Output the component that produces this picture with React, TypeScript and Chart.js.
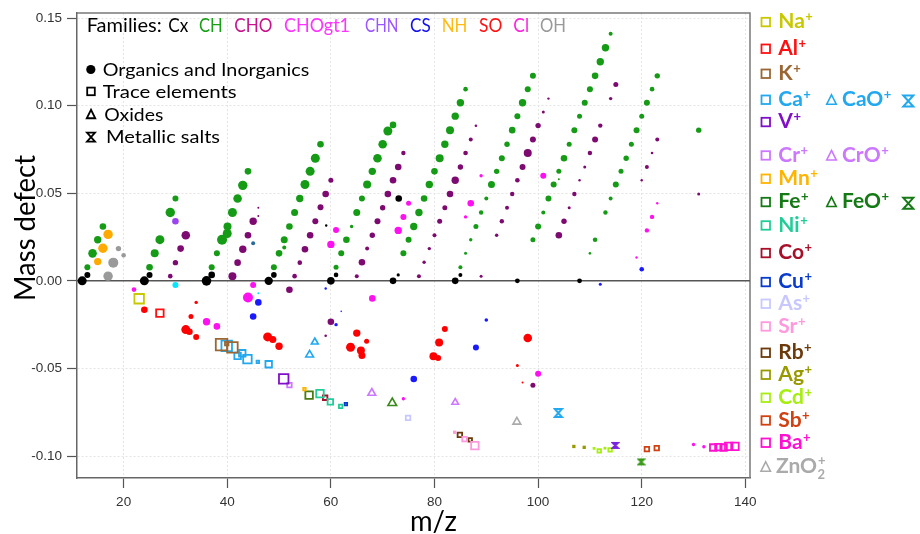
import React, { useEffect, useRef } from 'react';
import { Chart, registerables } from 'chart.js';
Chart.register(...registerables);

type P = [number, number, number]; // [m/z, mass defect, marker size]

// ---------- Organics and inorganics (circles) ----------
const CX: P[] = [
  [12, 0, 4.5], [13, 0.0034, 3], [24, 0, 4.5], [25, 0.0034, 3], [36, 0, 4.8], [37, 0.0034, 3.3],
  [48, 0, 4.2], [49, 0.0034, 2.8], [60, 0, 3.8], [61, 0.0034, 2.3], [72, 0, 3.3], [73, 0.0034, 1.6],
  [84, 0, 3.3], [85, 0.0034, 2], [96, 0, 2.4], [108, 0, 2.4], [73.1, 0.047, 3.3], [59.1, 0.0316, 1.2],
];
const CH: P[] = [
  [13, 0.0078, 3], [14, 0.0157, 4.3], [15, 0.0235, 3.7], [16, 0.031, 3.3],
  [25, 0.0078, 3.3], [26, 0.0157, 4], [27, 0.0235, 4.5], [29, 0.039, 4.7], [30, 0.047, 3],
  [37, 0.0078, 3], [38, 0.0157, 3], [39, 0.0235, 5], [40, 0.027, 4.5], [40.05, 0.031, 4], [41, 0.039, 4.5],
  [42, 0.047, 4.3], [43, 0.0545, 4.7], [44, 0.0625, 3.3],
  [49, 0.0078, 3], [50, 0.0157, 3.3], [51, 0.0235, 3.5], [51, 0.019, 2], [52, 0.031, 3.3], [53, 0.039, 3.5],
  [54, 0.047, 3.7], [55, 0.055, 4.5], [56, 0.0625, 4.5], [57, 0.07, 4.5], [58, 0.078, 3.3],
  [61, 0.0078, 2.5], [62, 0.0157, 3], [63, 0.0235, 3.3], [64, 0.031, 1.7], [65, 0.039, 3.5], [66, 0.047, 3],
  [67, 0.055, 4], [68, 0.0625, 3.7], [69, 0.07, 4.3], [70, 0.078, 4.3], [71, 0.0855, 4.5], [72, 0.089, 3.3],
  [74, 0.0157, 3], [75, 0.0235, 3], [76, 0.031, 3.7], [77, 0.039, 3.7], [78, 0.047, 3.3], [79, 0.055, 3.7],
  [80, 0.0625, 3.3], [81, 0.07, 4], [82, 0.078, 3.7], [83, 0.086, 4], [84, 0.094, 3.7], [85, 0.1016, 3.7], [86, 0.1094, 2.3],
  [85, 0.0078, 2], [86, 0.0157, 1.5], [87, 0.0235, 1.7], [88, 0.031, 2.5], [89, 0.039, 2.2], [90, 0.047, 2],
  [91, 0.055, 3.5], [92, 0.0625, 2.7], [93, 0.07, 3], [94, 0.078, 2.7], [95, 0.086, 3.3], [96, 0.094, 3],
  [97, 0.1016, 3.7], [98, 0.1094, 3], [99, 0.117, 3],
  [99, 0.0235, 2.5], [100, 0.031, 3], [101, 0.039, 2], [102, 0.047, 3], [103, 0.055, 3], [104, 0.0625, 2.5],
  [105, 0.07, 3.3], [106, 0.078, 2.5], [107, 0.086, 3], [108, 0.094, 2.5], [109, 0.1016, 3], [110, 0.1094, 3],
  [111, 0.117, 3.3], [112, 0.125, 3.7], [113, 0.133, 3.7], [114, 0.141, 2], [104, 0.058, 1],
  [110, 0.0157, 1.3], [111, 0.0235, 2.3], [113, 0.039, 2.2], [114, 0.047, 2], [115, 0.055, 3], [116, 0.0625, 2.5],
  [117, 0.07, 2.7], [118, 0.078, 2.5], [119, 0.086, 3], [120, 0.094, 2.5], [121, 0.1016, 3], [122, 0.1094, 2.3],
  [123, 0.117, 2.7], [131, 0.086, 2.7],
];
const CHO: P[] = [
  [29, 0.0027, 2.3], [30, 0.0104, 2.7], [31, 0.0184, 3.3], [32, 0.026, 4.3],
  [41, 0.0027, 4], [42, 0.0104, 3.3], [43, 0.018, 3.7], [44, 0.026, 3.3], [45, 0.034, 3.7], [46, 0.037, 1], [46, 0.0417, 1],
  [52, -0.0051, 3.3], [53, 0.0027, 2.3], [54, 0.0104, 2.3], [55, 0.018, 3.3], [56, 0.026, 3.3], [57, 0.034, 3],
  [58, 0.042, 3], [59, 0.0496, 3.3], [60, 0.0574, 2.5], [60, -0.0233, 3.3], [59, -0.0313, 1.3],
  [65, 0.0027, 2], [66, 0.0106, 3.3], [67, 0.0184, 2], [68, 0.026, 2.7], [69, 0.034, 3], [70, 0.0417, 2.7],
  [71, 0.0496, 3.3], [72, 0.0574, 3.3], [73, 0.065, 3.3], [74, 0.073, 2.2],
  [77, 0.0027, 2], [78, 0.0106, 1.7], [79, 0.0184, 1.7], [80, 0.026, 2], [81, 0.034, 2.5], [82, 0.0417, 2.5],
  [83, 0.0496, 3.3], [84, 0.0574, 3.7], [85, 0.065, 2.7], [86, 0.073, 2.3], [87, 0.0807, 2], [88, 0.0885, 1.3],
  [89, 0.0027, 1.5], [92, 0.026, 1.7], [93, 0.034, 2.2], [94, 0.0417, 2], [95, 0.0496, 2.2], [96, 0.0574, 2.3],
  [97, 0.065, 3], [98, 0.073, 4], [99, 0.0807, 3], [100, 0.0886, 2.7], [101, 0.0964, 1.5], [102, 0.104, 1.2],
  [99, -0.0595, 2.5],
  [104, 0.026, 3.3], [105, 0.034, 2.7], [106, 0.0417, 1.5], [107, 0.0496, 2.2], [108, 0.0574, 1.2], [109, 0.065, 1.5],
  [110, 0.073, 2.2], [111, 0.0807, 3], [112, 0.0886, 2.2], [114, 0.104, 1.7], [115, 0.112, 2.5],
  [120, 0.0574, 1.2], [121, 0.065, 2], [122, 0.073, 1.3], [123, 0.0807, 2], [131, 0.0496, 1.5],
];
const CHN: P[] = [[30, 0.034, 3.3]];
const CHOGT1_CL: P[] = [
  [22, -0.005, 2.3], [45, -0.0023, 3], [44, -0.0095, 5], [61, 0.029, 3], [60, 0.0208, 3.7], [36, -0.0233, 3.7],
  [38, -0.026, 3.3], [68, -0.01, 3.3], [75, 0.0443, 2.5], [74, 0.0365, 3], [73, 0.0288, 3.7], [87, 0.0443, 3.3],
  [86, 0.0365, 1.7], [89, 0.06, 1.7], [101, 0.06, 3], [123, 0.0443, 1.2], [122, 0.0365, 2.2], [121, 0.0288, 2.2],
  [119, 0.0133, 1.2], [100, -0.053, 3], [130, -0.0934, 1.7], [132, -0.0947, 1.7], [74, -0.0673, 1.7],
];
const SO: P[] = [
  [24, -0.0165, 3.3], [34, -0.0123, 1.7], [33, -0.0203, 2.5], [32, -0.0278, 4.5], [32.7, -0.029, 3.3], [34, -0.032, 3],
  [47.8, -0.032, 4.5], [48.8, -0.0335, 3.5], [50, -0.0373, 3.7], [65, -0.0298, 3.7], [66.9, -0.0345, 2.5],
  [63.8, -0.0379, 4.5], [65.8, -0.0398, 4], [66, -0.0426, 3.5], [82, -0.0275, 3], [80.9, -0.0352, 4],
  [79.8, -0.043, 4], [80.7, -0.044, 3], [98, -0.0326, 4.3], [96, -0.0483, 1.5], [97, -0.058, 1],
];
const CS: P[] = [
  [46, -0.0123, 3.3], [45, -0.0203, 3.3], [59, -0.0044, 1.2], [61, -0.025, 1.7], [62, -0.0174, 0.8],
  [90, -0.0223, 1.8], [88, -0.038, 3], [76, -0.056, 3.3], [112, -0.0019, 1.5], [120, 0.0066, 2.3],
];
const CYAN_PTS: P[] = [[30, -0.0023, 3], [46, -0.007, 1]];
const TEAL_PTS: P[] = [[45, 0.0214, 2]];
const NH: P[] = [[15, 0.011, 3.7], [16, 0.0186, 4.7], [17, 0.0265, 4.7]];
const OH: P[] = [[17, 0.0027, 4.7], [18, 0.0104, 5], [19, 0.0184, 2.7], [20, 0.0146, 2.3]];

// ---------- Trace elements (squares) ----------
const NA: P[] = [[23, -0.0102, 11]];
const AL: P[] = [[27, -0.0184, 9]];
const K: P[] = [[38.9, -0.0364, 13], [41, -0.038, 12], [39.9, -0.0358, 5]];
const CA: P[] = [[39.9, -0.0371, 12], [42, -0.0428, 8], [42.9, -0.0413, 8], [43.9, -0.0447, 10], [45.9, -0.0462, 4], [48, -0.0476, 8]];
const V: P[] = [[50.9, -0.0559, 11]];
const CR: P[] = [[52, -0.0595, 6]];
const MN: P[] = [[54.9, -0.0618, 4]];
const FE: P[] = [[55.8, -0.0652, 9]];
const NI: P[] = [[57.9, -0.0644, 9], [59.9, -0.0691, 7], [61.9, -0.0716, 5]];
const CO: P[] = [[58.9, -0.0667, 6]];
const CU: P[] = [[62.9, -0.0703, 4]];
const AS: P[] = [[74.9, -0.0782, 6]];
const SR: P[] = [[83.9, -0.0864, 3], [85.8, -0.0903, 6], [87.8, -0.094, 9]];
const RB: P[] = [[84.9, -0.0879, 6], [86.9, -0.0907, 5]];
const AG: P[] = [[106.9, -0.0945, 3], [108.9, -0.095, 3]];
const CD: P[] = [[110.8, -0.0956, 2.5], [111.8, -0.097, 5], [112.9, -0.0955, 2.5], [113.9, -0.0964, 5]];
const SB: P[] = [[121, -0.096, 6], [122.9, -0.0955, 6]];
const BA: P[] = [[133.8, -0.0951, 8], [134.8, -0.0949, 8], [135.8, -0.0951, 8], [136.8, -0.0945, 9], [138, -0.0945, 9]];

// ---------- Oxides (triangles) ----------
const CAO: P[] = [[56.9, -0.0349, 4], [55.9, -0.0422, 4.5]];
const CRO: P[] = [[67.9, -0.064, 4.5], [84, -0.0693, 3.8]];
const FEO: P[] = [[71.85, -0.0697, 5]];
const ZNO2: P[] = [[95.9, -0.0805, 4.5]];

// ---------- Metallic salts (hourglass) ----------
const SALT_CA: P[] = [[103.9, -0.0754, 4]];
const SALT_PURPLE: P[] = [[114.9, -0.0939, 4]];
const SALT_GREEN: P[] = [[119.9, -0.1033, 4]];

// ---------- Axes ----------
const X_MIN = 11, X_MAX = 140.9, X_STEP = 20;
const Y_MIN = -0.1125, Y_MAX = 0.1528, Y_STEP = 0.05;

const FAMILY_WORDS = ['Families:', 'Cx', 'CH', 'CHO', 'CHOgt1', 'CHN', 'CS', 'NH', 'SO', 'Cl', 'OH'];
const SHAPE_LABELS = ['Organics and Inorganics', 'Trace elements', 'Oxides', 'Metallic salts'];
const ELEMENT_LABELS = ['Na', 'Al', 'K', 'Ca', 'V', 'Cr', 'Mn', 'Fe', 'Ni', 'Co', 'Cu', 'As', 'Sr', 'Rb', 'Ag', 'Cd', 'Sb', 'Ba'];

const COL = {
  cx: '#000000', ch: '#159b15', cho: '#7d0a70', chn: '#9944ee', mag: '#ff10f0', so: '#ff0000', cs: '#1a1aff',
  cyan: '#00e6ff', teal: '#2a6a99', nh: '#ffaa00', oh: '#9a9a9a',
};
const EL_COLORS: Record<string, string> = {
  Na: '#c8c800', Al: '#ff1010', K: '#9a6633', Ca: '#22a8ee', V: '#8010c8', Cr: '#cc77ff', Mn: '#ffb400',
  Fe: '#157a15', Ni: '#22cc99', Co: '#a8102a', Cu: '#0a3ccc', As: '#c8c8ff', Sr: '#ff99dd', Rb: '#6b3a0a',
  Ag: '#999900', Cd: '#a6ee10', Sb: '#d04010', Ba: '#ff10d0',
};

function drawHourglass(g: CanvasRenderingContext2D, cx: number, cy: number, w: number, h: number, color: string, lw: number) {
  g.save();
  g.strokeStyle = color;
  g.lineWidth = lw;
  g.lineJoin = 'miter';
  g.beginPath();
  g.moveTo(cx - w / 2, cy - h / 2);
  g.lineTo(cx + w / 2, cy - h / 2);
  g.lineTo(cx - w / 2, cy + h / 2);
  g.lineTo(cx + w / 2, cy + h / 2);
  g.closePath();
  g.stroke();
  g.restore();
}
function makeHourglass(color: string, w: number, h: number, lw: number) {
  const c = document.createElement('canvas');
  c.width = Math.ceil(w + lw * 2);
  c.height = Math.ceil(h + lw * 2);
  drawHourglass(c.getContext('2d') as CanvasRenderingContext2D, c.width / 2, c.height / 2, w, h, color, lw);
  return c;
}
function drawTri(g: CanvasRenderingContext2D, cx: number, cy: number, w: number, h: number, color: string, lw: number) {
  g.save();
  g.strokeStyle = color;
  g.lineWidth = lw;
  g.beginPath();
  g.moveTo(cx, cy - h / 2);
  g.lineTo(cx + w / 2, cy + h / 2);
  g.lineTo(cx - w / 2, cy + h / 2);
  g.closePath();
  g.stroke();
  g.restore();
}
function fitText(g: CanvasRenderingContext2D, text: string, x: number, y: number, w: number | null, font: string, color: string) {
  g.save();
  g.font = font;
  g.fillStyle = color;
  g.textAlign = 'left';
  g.textBaseline = 'alphabetic';
  const m = g.measureText(text).width;
  const s = w ? w / m : 1;
  g.translate(x, y);
  g.scale(s, 1);
  g.fillText(text, 0, 0);
  g.restore();
  return x + (w ? w : m);
}

const decorPlugin = {
  id: 'decor',
  beforeDatasetsDraw(chart: any) {
    const { ctx, chartArea: a, scales } = chart;
    ctx.save();
    ctx.strokeStyle = '#7a7a7a';
    ctx.lineWidth = 1.5;
    ctx.beginPath();
    ctx.moveTo(a.left, a.top);
    ctx.lineTo(a.right, a.top);
    ctx.lineTo(a.right, a.bottom);
    ctx.stroke();
    const y0 = scales.y.getPixelForValue(0);
    ctx.strokeStyle = '#555555';
    ctx.lineWidth = 1.5;
    ctx.beginPath();
    ctx.moveTo(a.left, y0);
    ctx.lineTo(a.right, y0);
    ctx.stroke();
    ctx.restore();
  },
  afterDraw(chart: any) {
    const g: CanvasRenderingContext2D = chart.ctx;
    // axis titles
    g.save();
    g.translate(35, 228);
    g.rotate(-Math.PI / 2);
    fitText(g, 'Mass defect', -73, 0, 146, '29px Lato', '#000');
    g.restore();
    fitText(g, 'm/z', 410, 531, 47, '29px Lato', '#000');

    // families legend
    const famX = [86.7, 168.3, 199, 234.3, 284, 365, 410, 441.7, 479, 513.3, 540];
    const famW = [75, 20, 23.7, 38, 66, 33.3, 20.7, 25.7, 23.3, 15.7, 26];
    const famC = ['#000', '#000', '#18a018', '#c8148c', '#ff33ff', '#9955ff', '#1010ee', '#ffbb11', '#ff1111', '#ff22dd', '#999'];
    FAMILY_WORDS.forEach((w, i) => fitText(g, w, famX[i], 32.3, famW[i], '18.6px Lato', famC[i]));

    // shapes legend
    g.save();
    g.fillStyle = '#000';
    g.beginPath();
    g.arc(90.8, 69.5, 4.6, 0, Math.PI * 2);
    g.fill();
    g.strokeStyle = '#000';
    g.lineWidth = 1.8;
    g.strokeRect(87.2, 87.6, 7.6, 7.6);
    g.restore();
    drawTri(g, 91, 114, 8.5, 8.5, '#000', 1.8);
    drawHourglass(g, 91, 137.2, 8, 9, '#000', 1.8);
    const shX = [102.7, 102.7, 104.3, 106];
    const shW = [206.6, 134, 59, 114];
    const shY = [76, 98.3, 120.7, 142.7];
    SHAPE_LABELS.forEach((t, i) => fitText(g, t, shX[i], shY[i], shW[i], '17.7px Lato', '#000'));

    // elements legend
    const base = [28.3, 55, 80, 106, 128.3, 161.7, 185, 208.3, 231.7, 259.3, 288.3, 310, 332.7, 359, 381, 404, 426.7, 449];
    const boldFont = 'bold 21px Lato';
    const supFont = 'bold 13px Lato';
    ELEMENT_LABELS.forEach((el, i) => {
      const c = EL_COLORS[el];
      const by = base[i];
      g.save();
      g.strokeStyle = c;
      g.lineWidth = 1.8;
      g.strokeRect(761.5, by - 10.5, 8.5, 8.5);
      g.restore();
      const xe = fitText(g, el, 778.3, by, null, boldFont, c);
      fitText(g, '+', xe + 0.5, by - 7, null, supFont, c);
    });
    // ZnO2+
    drawTri(g, 765.7, 466.5, 9.5, 9.5, '#aaaaaa', 1.6);
    let xz = fitText(g, 'ZnO', 776, 473.3, null, boldFont, '#aaaaaa');
    fitText(g, '2', xz + 0.5, 478.5, null, supFont, '#aaaaaa');
    fitText(g, '+', xz + 1, 465, null, supFont, '#aaaaaa');
    // oxides & salts next to elements
    const ox = [
      { t: 'CaO', c: EL_COLORS.Ca, by: 106, salt: true },
      { t: 'CrO', c: EL_COLORS.Cr, by: 161.7, salt: false },
      { t: 'FeO', c: EL_COLORS.Fe, by: 208.3, salt: true },
    ];
    ox.forEach((o) => {
      drawTri(g, 831.5, o.by - 6.5, 9.5, 9.5, o.c, 1.6);
      const xe = fitText(g, o.t, 842, o.by, null, boldFont, o.c);
      fitText(g, '+', xe + 0.5, o.by - 7, null, supFont, o.c);
      if (o.salt) drawHourglass(g, 908.3, o.by - 5, 10, 11, o.c, 2);
    });
  },
};

function circleDs(data: P[], color: string) {
  return {
    type: 'bubble',
    data: data.map((p) => ({ x: p[0], y: p[1], r: p[2] })),
    backgroundColor: color,
    borderColor: color,
    borderWidth: 0,
    pointStyle: 'circle',
  };
}
function squareDs(data: P[], color: string) {
  return {
    type: 'bubble',
    data: data.map((p) => ({ x: p[0], y: p[1], r: Math.max(0.6, (p[2] - 1.5) / Math.SQRT2) })),
    backgroundColor: 'rgba(0,0,0,0)',
    borderColor: color,
    borderWidth: 1.8,
    pointStyle: 'rect',
  };
}
function triDs(data: P[], color: string) {
  return {
    type: 'bubble',
    data: data.map((p) => ({ x: p[0], y: p[1], r: p[2] })),
    backgroundColor: 'rgba(0,0,0,0)',
    borderColor: color,
    borderWidth: 1.6,
    pointStyle: 'triangle',
  };
}
function saltDs(data: P[], color: string, w: number, h: number) {
  return {
    type: 'bubble',
    data: data.map((p) => ({ x: p[0], y: p[1], r: p[2] })),
    backgroundColor: color,
    borderColor: color,
    pointStyle: makeHourglass(color, w, h, 2),
  };
}

export default function App() {
  const ref = useRef<HTMLCanvasElement | null>(null);
  useEffect(() => {
    document.body.style.margin = '0';
    if (!ref.current) return;
    Chart.defaults.font.family = "'Liberation Sans', Arial, sans-serif";
    const datasets: any[] = [
      saltDs(SALT_CA, EL_COLORS.Ca, 7, 8),
      saltDs(SALT_PURPLE, '#7722dd', 5, 5),
      saltDs(SALT_GREEN, '#3a9a1a', 5, 5),
      triDs(CAO, EL_COLORS.Ca),
      triDs(CRO, EL_COLORS.Cr),
      triDs(FEO, '#3a8a1a'),
      triDs(ZNO2, '#aaaaaa'),
      squareDs(NA, EL_COLORS.Na),
      squareDs(AL, EL_COLORS.Al),
      squareDs(K, EL_COLORS.K),
      squareDs(CA, EL_COLORS.Ca),
      squareDs(V, EL_COLORS.V),
      squareDs(CR, EL_COLORS.Cr),
      squareDs(MN, EL_COLORS.Mn),
      squareDs(FE, '#4a7a10'),
      squareDs(NI, EL_COLORS.Ni),
      squareDs(CO, EL_COLORS.Co),
      squareDs(CU, EL_COLORS.Cu),
      squareDs(AS, EL_COLORS.As),
      squareDs(SR, EL_COLORS.Sr),
      squareDs(RB, EL_COLORS.Rb),
      squareDs(AG, EL_COLORS.Ag),
      squareDs(CD, EL_COLORS.Cd),
      squareDs(SB, EL_COLORS.Sb),
      squareDs(BA, EL_COLORS.Ba),
      circleDs(CX, COL.cx),
      circleDs(OH, COL.oh),
      circleDs(NH, COL.nh),
      circleDs(CYAN_PTS, COL.cyan),
      circleDs(TEAL_PTS, COL.teal),
      circleDs(CS, COL.cs),
      circleDs(SO, COL.so),
      circleDs(CHOGT1_CL, COL.mag),
      circleDs(CHN, COL.chn),
      circleDs(CHO, COL.cho),
      circleDs(CH, COL.ch),
    ];
    const chart = new Chart(ref.current, {
      type: 'bubble',
      data: { datasets },
      options: {
        animation: false,
        responsive: false,
        devicePixelRatio: 1,
        layout: { padding: { left: 0, right: 170, top: 11, bottom: 0 } },
        plugins: { legend: { display: false }, tooltip: { enabled: false } },
        scales: {
          x: {
            type: 'linear',
            min: X_MIN,
            max: X_MAX,
            ticks: { stepSize: X_STEP, includeBounds: false, color: '#333', font: { size: 13.5 }, padding: 6 },
            grid: { color: '#e4e4e4', lineWidth: 1, tickColor: '#555', tickLength: 10, tickWidth: 1.2 },
            border: { color: '#666', width: 1.5, dash: [2, 2] },
            afterFit: (s: any) => { s.height = 56; },
          },
          y: {
            type: 'linear',
            min: Y_MIN,
            max: Y_MAX,
            ticks: {
              stepSize: Y_STEP, includeBounds: false, color: '#333', font: { size: 13.5 }, padding: 5,
              callback: (v: any) => Number(v).toFixed(2),
            },
            grid: { color: '#e4e4e4', lineWidth: 1, tickColor: '#555', tickLength: 10, tickWidth: 1.2 },
            border: { color: '#666', width: 1.5, dash: [2, 2] },
            afterFit: (s: any) => { s.width = 77; },
          },
        },
      } as any,
      plugins: [decorPlugin],
    });
    return () => chart.destroy();
  }, []);
  return (
    <div style={{ width: 920, height: 534 }}>
      <canvas ref={ref} width={920} height={534} style={{ display: 'block' }} />
    </div>
  );
}
